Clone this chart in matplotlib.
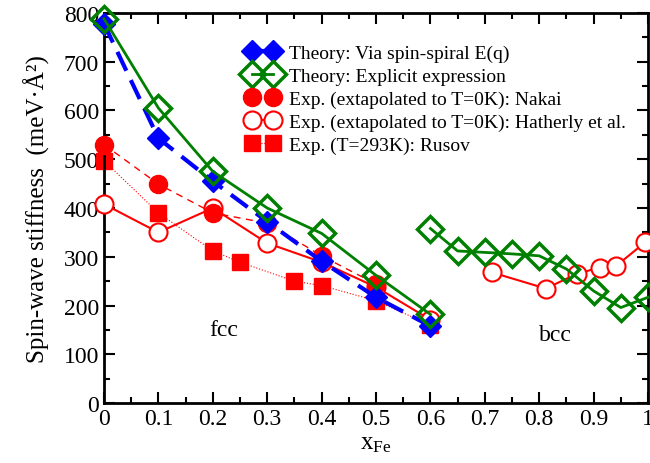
import matplotlib
matplotlib.use("Agg")
import matplotlib.pyplot as plt
from matplotlib.ticker import MultipleLocator

plt.rcParams['font.family'] = ['Liberation Serif', 'DejaVu Serif']
plt.rcParams['mathtext.fontset'] = 'custom'
plt.rcParams['mathtext.rm'] = 'Liberation Serif'
plt.rcParams['mathtext.it'] = 'Liberation Serif:italic'

# Theory: via spin-spiral E(q)
x_spiral = [0.0, 0.1, 0.2, 0.3, 0.4, 0.5, 0.6]
y_spiral = [778, 543, 455, 372, 291, 217, 158]

# Theory: explicit expression (fcc)
x_expl_fcc = [0.0, 0.1, 0.2, 0.3, 0.4, 0.5, 0.6]
y_expl_fcc = [788, 605, 475, 400, 348, 262, 182]
# Theory: explicit expression (bcc)
x_expl_bcc = [0.6, 0.65, 0.7, 0.75, 0.8, 0.85, 0.9, 0.95, 1.0]
y_expl_bcc = [358, 312, 309, 306, 302, 275, 230, 196, 217]

# Exp. Nakai
x_nakai = [0.0, 0.1, 0.2, 0.3, 0.4, 0.5]
y_nakai = [530, 449, 390, 369, 302, 244]

# Exp. Hatherly et al. (fcc)
x_hath_fcc = [0.0, 0.1, 0.2, 0.3, 0.4, 0.5, 0.6]
y_hath_fcc = [408, 350, 400, 328, 289, 238, 171]
# Exp. Hatherly et al. (bcc)
x_hath_bcc = [0.713, 0.812, 0.869, 0.911, 0.942, 0.995]
y_hath_bcc = [268, 235, 265, 278, 282, 330]

# Exp. Rusov
x_rusov = [0.0, 0.1, 0.2, 0.25, 0.35, 0.4, 0.5, 0.6]
y_rusov = [497, 390, 312, 289, 250, 241, 210, 160]

fig = plt.figure(figsize=(6.5, 4.64), dpi=100)
ax = fig.add_axes([0.16, 0.129, 0.837, 0.841])

red = '#ff0000'
green = '#008000'
blue = '#0000ff'

ax.plot(x_rusov, y_rusov, color=red, ls=':', lw=0.8, marker='s', ms=11,
        mfc=red, mec=red, label='Exp. (T=293K): Rusov', zorder=2, clip_on=False)
ax.plot(x_hath_fcc, y_hath_fcc, color=red, ls='-', lw=1.5, marker='o', ms=13,
        mfc='white', mec=red, mew=1.5, zorder=3, clip_on=False,
        label='Exp. (extapolated to T=0K): Hatherly et al.')
ax.plot(x_hath_bcc, y_hath_bcc, color=red, ls='-', lw=1.5, marker='o', ms=13,
        mfc='white', mec=red, mew=1.5, zorder=3, clip_on=False)
ax.plot(x_nakai, y_nakai, color=red, ls=(0, (5, 4)), lw=1.0, marker='o', ms=13,
        mfc=red, mec=red, zorder=4, clip_on=False,
        label='Exp. (extapolated to T=0K): Nakai')
ax.plot(x_spiral, y_spiral, color=blue, ls=(0, (5, 2.5)), lw=3.0, marker='D', ms=11,
        mfc=blue, mec=blue, zorder=5, clip_on=False, label='Theory: Via spin-spiral E(q)')
ax.plot(x_expl_fcc, y_expl_fcc, color=green, ls='-', lw=2.0, marker='D', ms=13,
        mfc='none', mec=green, mew=2.5, zorder=6, clip_on=False,
        label='Theory: Explicit expression')
ax.plot(x_expl_bcc, y_expl_bcc, color=green, ls='-', lw=2.0, marker='D', ms=13,
        mfc='none', mec=green, mew=2.5, zorder=6, clip_on=False)

ax.set_xlim(0, 1)
ax.set_ylim(0, 800)
ax.xaxis.set_major_locator(MultipleLocator(0.1))
ax.xaxis.set_minor_locator(MultipleLocator(0.05))
ax.yaxis.set_major_locator(MultipleLocator(100))
ax.yaxis.set_minor_locator(MultipleLocator(50))
ax.set_xticks([0, 0.1, 0.2, 0.3, 0.4, 0.5, 0.6, 0.7, 0.8, 0.9, 1.0])
ax.set_xticklabels(['0', '0.1', '0.2', '0.3', '0.4', '0.5', '0.6', '0.7', '0.8', '0.9', '1'])
ax.tick_params(which='both', direction='in', top=True, right=True, labelsize=17, width=1.5)
ax.tick_params(which='major', length=8)
ax.tick_params(which='minor', length=4)
for s in ax.spines.values():
    s.set_linewidth(2)

ax.set_xlabel(r'x$_{\mathrm{Fe}}$', fontsize=18, labelpad=2)
ax.set_ylabel('Spin-wave stiffness  (meV·Å²)', fontsize=18, labelpad=10)

ax.text(0.22, 150, 'fcc', fontsize=17, ha='center', va='center')
ax.text(0.83, 140, 'bcc', fontsize=17, ha='center', va='center')

handles, labels = ax.get_legend_handles_labels()
order = ['Theory: Via spin-spiral E(q)', 'Theory: Explicit expression',
         'Exp. (extapolated to T=0K): Nakai',
         'Exp. (extapolated to T=0K): Hatherly et al.',
         'Exp. (T=293K): Rusov']
hd = dict(zip(labels, handles))
ax.legend([hd[l] for l in order], order, loc='upper left', bbox_to_anchor=(0.247, 0.94),
          frameon=False, numpoints=2, fontsize=14, handlelength=1.7,
          handletextpad=0.5, labelspacing=0.28, borderaxespad=0)

fig.savefig('out.png', dpi=100)
